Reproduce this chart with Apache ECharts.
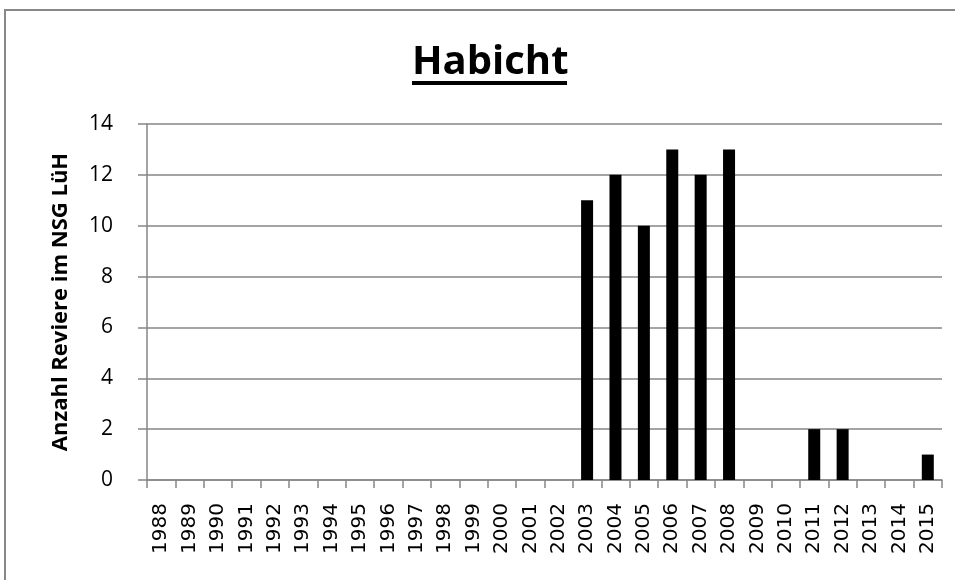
<!DOCTYPE html>
<html>
<head>
<meta charset="utf-8">
<script src="https://cdn.jsdelivr.net/npm/echarts@6/dist/echarts.min.js"></script>
<style>
    html, body {
        margin: 0;
        padding: 0;
        background: #fff;
    }

    #chart {
        width: 955px;
        height: 580px;
    }
</style>
</head>
<body>
<div id="chart"></div>
<script>
const years = ['1988', '1989', '1990', '1991', '1992', '1993', '1994', '1995', '1996', '1997',
    '1998', '1999', '2000', '2001', '2002', '2003', '2004', '2005', '2006', '2007',
    '2008', '2009', '2010', '2011', '2012', '2013', '2014', '2015'];
const reviere = [0, 0, 0, 0, 0, 0, 0, 0, 0, 0,
    0, 0, 0, 0, 0, 11, 12, 10, 13, 12,
    13, 0, 0, 2, 2, 0, 0, 1];
const yTicks = [0, 2, 4, 6, 8, 10, 12, 14];

const chart = echarts.init(document.getElementById('chart'));

const option = {
    animation: false,
    backgroundColor: '#fff',
    title: {
        text: 'Habicht',
        left: 412,
        top: 43,
        padding: 0,
        textStyle: {
            fontFamily: 'Open Sans',
            fontWeight: 'bold',
            fontSize: 40,
            color: '#000',
        },
    },
    graphic: [
        {
            // chart frame
            type: 'rect',
            shape: {x: 5, y: 10, width: 1000, height: 600},
            style: {fill: 'none', stroke: '#888', lineWidth: 2},
            silent: true,
        },
        {
            // title underline
            type: 'rect',
            shape: {x: 412, y: 81, width: 155, height: 4},
            style: {fill: '#000'},
            silent: true,
        },
    ],
    grid: {
        left: 147,
        right: 13,
        top: 124,
        bottom: 100,
    },
    xAxis: {
        type: 'category',
        data: years,
        axisLine: {lineStyle: {color: '#868686', width: 1.5}},
        axisTick: {show: true, length: 8, lineStyle: {color: '#868686', width: 1.5}},
        axisLabel: {
            rotate: 90,
            margin: 23,
            interval: 0,
            fontFamily: 'DejaVu Sans',
            fontSize: 20,
            color: '#000',
        },
    },
    yAxis: {
        type: 'value',
        min: yTicks[0],
        max: yTicks[yTicks.length - 1],
        interval: 2,
        name: 'Anzahl Reviere im NSG LüH',
        nameLocation: 'middle',
        nameGap: 75,
        nameTextStyle: {
            fontFamily: 'Open Sans',
            fontWeight: 'bold',
            fontSize: 22,
            color: '#000',
        },
        axisLine: {show: true, lineStyle: {color: '#868686', width: 1.5}},
        axisTick: {show: true, length: 9, lineStyle: {color: '#868686', width: 1.5}},
        splitLine: {lineStyle: {color: '#868686', width: 1.5}},
        axisLabel: {
            margin: 34,
            fontFamily: 'Open Sans',
            fontSize: 21,
            color: '#000',
        },
    },
    series: [
        {
            type: 'bar',
            data: reviere,
            barWidth: 12,
            itemStyle: {color: '#000'},
        },
    ],
};

chart.setOption(option);
</script>
</body>
</html>
